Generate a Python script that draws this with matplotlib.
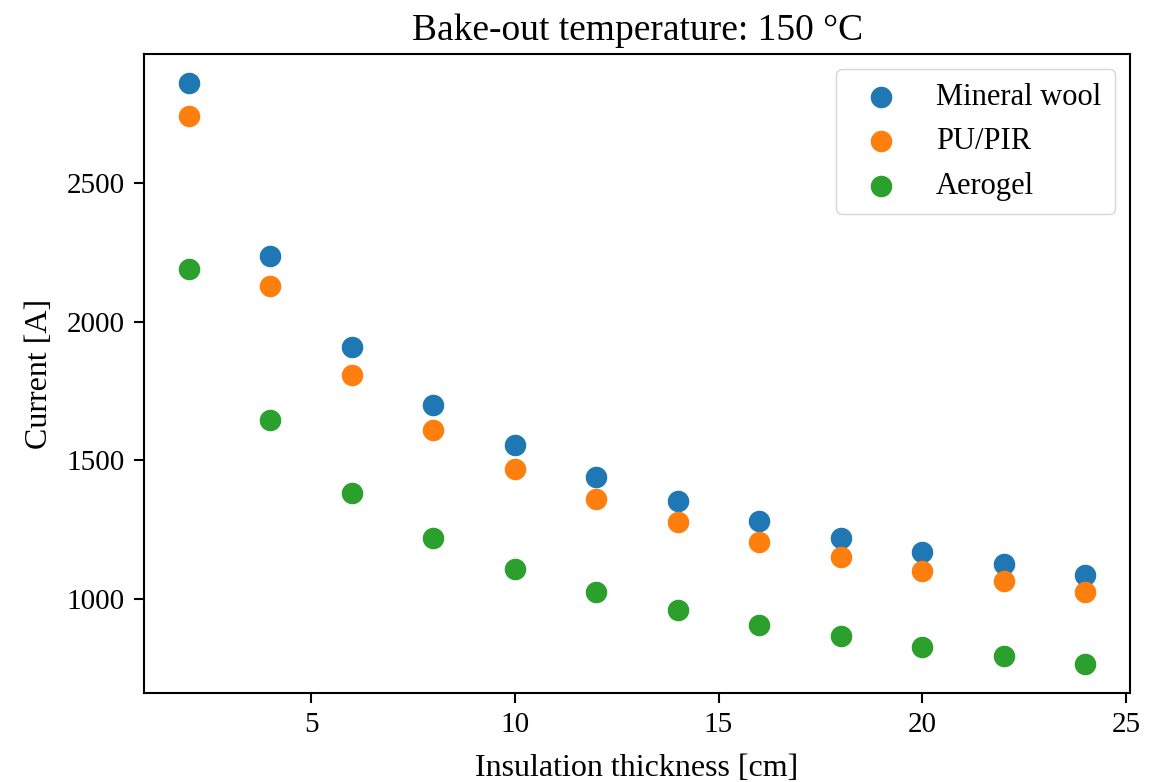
import matplotlib
matplotlib.use("Agg")
from matplotlib import pyplot as plt

thickness = [2, 4, 6, 8, 10, 12, 14, 16, 18, 20, 22, 24]
mineral_wool = [2860, 2237, 1910, 1701, 1554, 1439, 1352, 1281, 1219, 1169, 1126, 1086]
pu_pir = [2741, 2129, 1809, 1608, 1468, 1360, 1277, 1205, 1151, 1101, 1065, 1025]
aerogel = [2191, 1647, 1381, 1219, 1108, 1025, 960, 906, 867, 827, 795, 766]

plt.rcParams['font.family'] = ['Liberation Serif', 'DejaVu Serif']
plt.rcParams['font.size'] = 21

fig = plt.figure(figsize=(11.62, 7.82), dpi=100)
ax = fig.add_axes([0.124, 0.1138, 0.8485, 0.8172])

ax.scatter(thickness, mineral_wool, s=210, label="Mineral wool")
ax.scatter(thickness, pu_pir, s=210, label="PU/PIR")
ax.scatter(thickness, aerogel, s=210, label="Aerogel")

for sp in ax.spines.values():
    sp.set_linewidth(1.5)
ax.tick_params(width=1.5, length=7, pad=7, labelsize=21)

ax.set_xlabel("Insulation thickness [cm]", fontsize=23, labelpad=11)
ax.set_ylabel("Current [A]", fontsize=23, labelpad=9)
ax.set_title("Bake-out temperature: 150 °C", fontsize=27, pad=10)
ax.legend(fontsize=22, borderpad=0.45, handletextpad=0.8, borderaxespad=0.5)

fig.savefig("out.png", dpi=100)
